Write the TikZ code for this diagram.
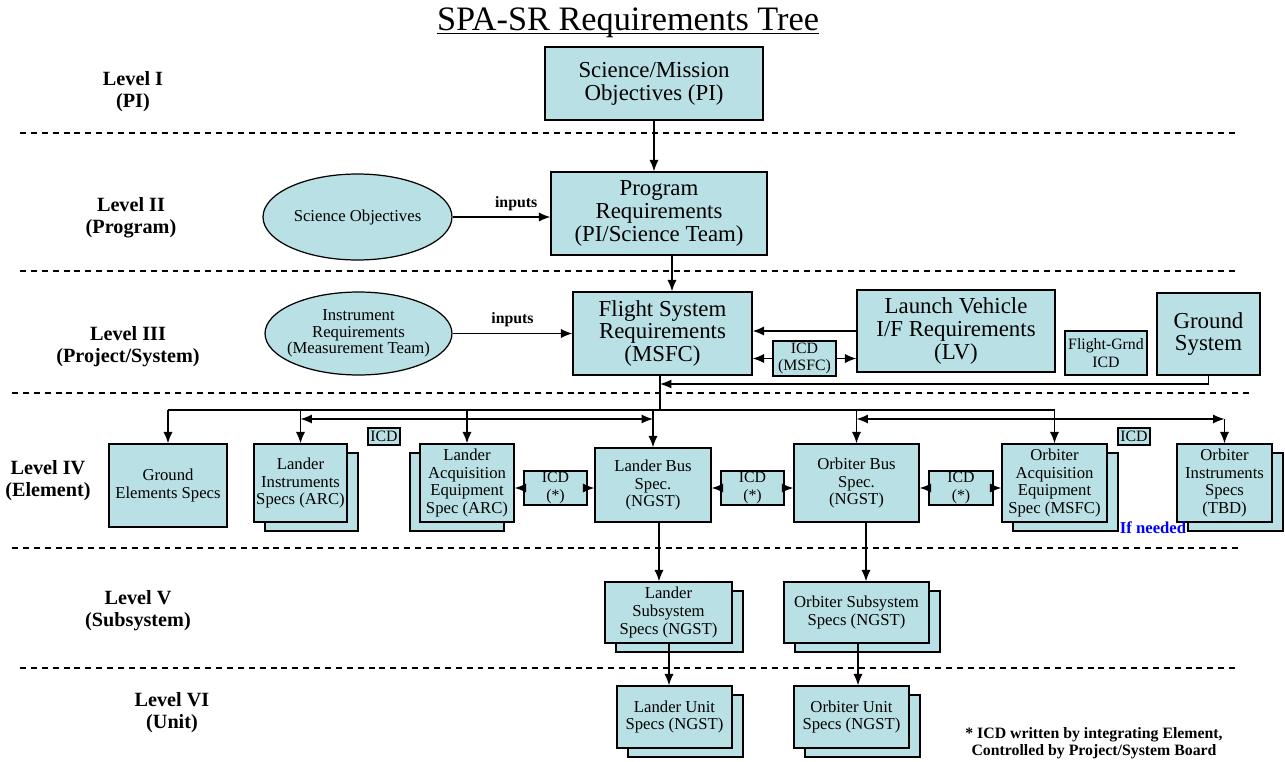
\documentclass[tikz,border=0pt]{standalone}
\usepackage{fontspec}
\setmainfont{Liberation Serif}
\usetikzlibrary{arrows, arrows.meta, calc, shapes.geometric, shadows}
\definecolor{boxfill}{RGB}{185,224,228}

\begin{document}
\begin{tikzpicture}[x=0.02cm, y=-0.02cm,
    box/.style={draw, fill=boxfill, line width=0.7pt, align=center, inner sep=1pt},
    stack/.style={box, copy shadow={shadow xshift=0.22cm, shadow yshift=-0.18cm}},
    stackleft/.style={box, copy shadow={shadow xshift=-0.2cm, shadow yshift=-0.18cm}},
    icd/.style={box, inner sep=0pt, font=\fontsize{9}{10}\selectfont},
    oval/.style={ellipse, draw, fill=boxfill, line width=0.7pt, inner sep=0pt},
    lvl/.style={align=center, font=\bfseries\fontsize{11.5}{12.5}\selectfont},
    bigtxt/.style={font=\fontsize{13}{13}\selectfont},
    midtxt/.style={font=\fontsize{9.5}{10}\selectfont},
    smalltxt/.style={align=center, font=\fontsize{9.5}{9.5}\selectfont},
    inp/.style={font=\bfseries\fontsize{9}{10}\selectfont},
    arr/.style={thick, -{Latex[length=6.5pt, width=5.2pt]}},
    dbl/.style={thick, {Latex[length=6.5pt, width=5.2pt]}-{Latex[length=6.5pt, width=5.2pt]}},
    levelsep/.style={line width=0.6pt, dash pattern=on 3.4pt off 2.8pt}]
    \useasboundingbox (0,0) rectangle (1285,761);

    \coordinate (trunkA)  at (672,0);
    \coordinate (trunkB)  at (660,0);
    \coordinate (gndLine) at (0,384);
    \coordinate (busTop)  at (0,410);
    \coordinate (busLow)  at (0,419);
    \coordinate (lDown)   at (659,0);
    \coordinate (oDown)   at (866,0);
    \coordinate (lUnit)   at (669,0);
    \coordinate (oUnit)   at (858,0);

    % level separators
    \draw[levelsep] (20,133) -- (1238,133);
    \draw[levelsep] (20,271) -- (1238,271);
    \draw[levelsep] (12,393) -- (1250,393);
    \draw[levelsep] (12,548) -- (1240,548);
    \draw[levelsep] (20,668) -- (1240,668);

    \node[font=\fontsize{19.5}{22}\selectfont, inner sep=0pt, anchor=base] (title) at (628,30) {SPA-SR Requirements Tree};
    \draw[line width=0.6pt] ([yshift=-1.8pt]title.base west) -- ([yshift=-1.8pt]title.base east);

    % level labels
    \node[lvl] (l1) at (133,92)  {Level I\\(PI)};
    \node[lvl] (l2) at (131,218) {Level II\\(Program)};
    \node[lvl] (l3) at (128,347) {Level III\\(Project/System)};
    \node[lvl] (l4) at (48,481)  {Level IV\\(Element)};
    \node[lvl] (l5) at (138,611) {Level V\\(Subsystem)};
    \node[lvl] (l6) at (172,713) {Level VI\\(Unit)};

    % levels I-III
    \node[box, bigtxt, minimum width=4.36cm, minimum height=1.46cm] (mission) at (654,83.5) {Science/Mission\\Objectives (PI)};
    \node[box, bigtxt, minimum width=4.32cm, minimum height=1.66cm] (program) at (659,213.5) {Program\\Requirements\\(PI/Science Team)};
    \node[oval, minimum width=3.78cm, minimum height=1.72cm, label={[smalltxt]center:Science Objectives}] (sciobj) at (357.5,217) {};
    \node[box, bigtxt, minimum width=3.58cm, minimum height=1.66cm] (flight) at (662.5,333.5) {Flight System\\Requirements\\(MSFC)};
    \node[box, bigtxt, minimum width=3.96cm, minimum height=1.64cm] (lv) at (956,331) {Launch Vehicle\\I/F Requirements\\(LV)};
    \node[icd, minimum width=1.26cm, minimum height=0.70cm] (icdmsfc) at (804.5,358.5) {ICD\\(MSFC)};
    \node[icd, minimum width=1.64cm, minimum height=0.88cm] (fgicd) at (1106,353) {Flight-Grnd\\ICD};
    \node[box, bigtxt, minimum width=2.06cm, minimum height=1.64cm] (ground) at (1208.5,334) {Ground\\System};
    \node[oval, minimum width=3.74cm, minimum height=1.66cm, label={[smalltxt]center:{Instrument\\Requirements\\(Measurement Team)}}] (instreq) at (358.5,333.5) {};

    % level IV
    \node[box, midtxt, minimum width=2.36cm, minimum height=1.66cm] (gelem) at (168,485.5) {Ground\\Elements Specs};
    \node[stack, midtxt, minimum width=1.86cm, minimum height=1.56cm] (linst) at (300.5,483) {Lander\\Instruments\\Specs (ARC)};
    \node[icd, minimum width=0.64cm, minimum height=0.34cm] (icdl) at (384,436.5) {ICD};
    \node[stackleft, midtxt, minimum width=1.88cm, minimum height=1.56cm] (lacq) at (467,483) {Lander\\Acquisition\\Equipment\\Spec (ARC)};
    \node[icd, minimum width=1.26cm, minimum height=0.68cm] (icda) at (555.5,488) {ICD\\(*)};
    \node[box, midtxt, minimum width=2.32cm, minimum height=1.48cm] (lbus) at (653,485) {Lander Bus\\Spec.\\(NGST)};
    \node[icd, minimum width=1.26cm, minimum height=0.68cm] (icdb) at (752.5,488) {ICD\\(*)};
    \node[box, midtxt, minimum width=2.50cm, minimum height=1.56cm] (obus) at (856.5,483) {Orbiter Bus\\Spec.\\(NGST)};
    \node[icd, minimum width=1.28cm, minimum height=0.68cm] (icdc) at (961,488) {ICD\\(*)};
    \node[stack, midtxt, minimum width=2.10cm, minimum height=1.56cm] (oacq) at (1054.5,483) {Orbiter\\Acquisition\\Equipment\\Spec (MSFC)};
    \node[icd, minimum width=0.64cm, minimum height=0.34cm] (icdo) at (1134,436.5) {ICD};
    \node[stack, midtxt, minimum width=1.90cm, minimum height=1.56cm] (oinst) at (1224.5,483) {Orbiter\\Instruments\\Specs\\(TBD)};
    \node[text=blue, font=\bfseries\fontsize{9.5}{10}\selectfont] (ifneeded) at (1153,528) {If needed};

    % levels V and VI
    \node[stack, midtxt, minimum width=2.54cm, minimum height=1.22cm] (lsub) at (668.5,612.5) {Lander\\Subsystem\\Specs (NGST)};
    \node[stack, midtxt, minimum width=2.90cm, minimum height=1.22cm] (osub) at (856.5,612.5) {Orbiter Subsystem\\Specs (NGST)};
    \node[stack, midtxt, minimum width=2.30cm, minimum height=1.24cm] (lunit) at (674.5,717) {Lander Unit\\Specs (NGST)};
    \node[stack, midtxt, minimum width=2.30cm, minimum height=1.24cm] (ounit) at (851.5,717) {Orbiter Unit\\Specs (NGST)};

    \node[align=center, font=\bfseries\fontsize{9}{10}\selectfont] (note) at (1094,743) {* ICD written by integrating Element,\\Controlled by Project/System Board};

    % connectors
    \draw[arr] (mission.south) -- (mission.south |- program.north);
    \draw[arr] (program.south -| trunkA) -- (flight.north -| trunkA);
    \draw[arr] (sciobj.east) -- node[inp, pos=0.65, above] (inp1) {inputs} (sciobj.east -| program.west);
    \draw[arr] (instreq.east) -- node[inp, above] (inp2) {inputs} (instreq.east -| flight.west);
    \draw[arr] (lv.west) -- (lv.west -| flight.east);
    \draw[arr] (icdmsfc.west) -- (icdmsfc.west -| flight.east);
    \draw[arr] (icdmsfc.east) -- (icdmsfc.east -| lv.west);
    \draw[arr] (ground.south) |- (trunkB |- gndLine);
    \draw[thick] (flight.south -| trunkB) -- (trunkB |- busTop);
    \draw[thick] (gelem.north |- busTop) -- (oacq.north |- busTop);
    \foreach \n in {gelem, linst, lacq, lbus, obus, oacq}
        \draw[arr] (\n.north |- busTop) -- (\n.north);
    \draw[dbl] (linst.north |- busLow) -- (lbus.north |- busLow);
    \draw[dbl] (obus.north |- busLow) -- (oinst.north |- busLow);
    \draw[arr] (oinst.north |- busLow) -- (oinst.north);

    \draw[arr] (icda.west) -- (icda.west -| lacq.east);
    \draw[arr] (icda.east) -- (icda.east -| lbus.west);
    \draw[arr] (icdb.west) -- (icdb.west -| lbus.east);
    \draw[arr] (icdb.east) -- (icdb.east -| obus.west);
    \draw[arr] (icdc.west) -- (icdc.west -| obus.east);
    \draw[arr] (icdc.east) -- (icdc.east -| oacq.west);

    \draw[arr] (lbus.south -| lDown) -- (lsub.north -| lDown);
    \draw[arr] (obus.south -| oDown) -- (osub.north -| oDown);
    \draw[arr] (lsub.south -| lUnit) -- (lunit.north -| lUnit);
    \draw[arr] (osub.south -| oUnit) -- (ounit.north -| oUnit);
\end{tikzpicture}
\end{document}
